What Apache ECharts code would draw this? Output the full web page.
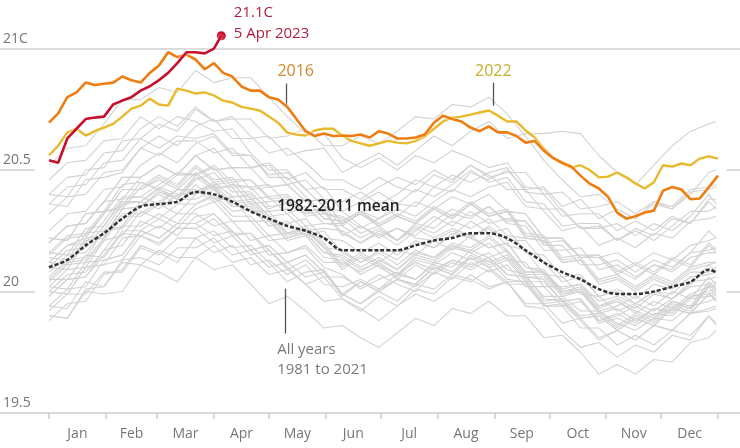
<!DOCTYPE html>
<html><head><meta charset="utf-8">
<script src="https://cdn.jsdelivr.net/npm/echarts@6/dist/echarts.min.js"></script>
<style>html,body{margin:0;padding:0;background:#fff}#c{width:740px;height:448px}</style>
</head><body><div id="c"></div>
<script>
const monthNames = ['Jan','Feb','Mar','Apr','May','Jun','Jul','Aug','Sep','Oct','Nov','Dec'];
const monthStarts = [0,31,59,90,120,151,181,212,243,273,304,334,365];
const yTicks = [19.5, 20, 20.5, 21];

const coarseDays = [0,10,20,30,40,50,60,70,80,90,100,110,120,130,140,150,160,170,180,190,200,210,220,230,240,250,260,270,280,290,300,310,320,330,340,350,360,364];
const fineDays = [0,5,10,15,20,25,30,35,40,45,50,55,60,65,70,75,80,85,90,95,100,105,110,115,120,125,130,135,140,145,150,155,160,165,170,175,180,185,190,195,200,205,210,215,220,225,230,235,240,245,250,255,260,265,270,275,280,285,290,295,300,305,310,315,320,325,330,335,340,345,350,355,360,365];
const days2023 = [0,5,10,15,20,25,30,35,40,45,50,55,60,65,70,75,80,85,90,94];

const mean8211 = [20.10,20.13,20.19,20.24,20.30,20.35,20.36,20.37,20.41,20.40,20.37,20.33,20.30,20.27,20.25,20.22,20.17,20.17,20.17,20.17,20.19,20.21,20.22,20.24,20.24,20.22,20.17,20.12,20.08,20.05,20.01,19.99,19.99,20.00,20.02,20.04,20.09,20.08];

const y2016 = [20.695,20.733,20.80,20.82,20.86,20.85,20.855,20.86,20.885,20.87,20.86,20.90,20.93,20.985,20.965,20.975,20.955,20.915,20.94,20.90,20.885,20.844,20.827,20.827,20.80,20.79,20.76,20.71,20.66,20.64,20.65,20.64,20.642,20.64,20.646,20.634,20.66,20.65,20.63,20.63,20.634,20.646,20.695,20.724,20.71,20.70,20.675,20.66,20.68,20.655,20.655,20.64,20.613,20.62,20.58,20.55,20.53,20.514,20.477,20.444,20.424,20.39,20.325,20.30,20.31,20.325,20.333,20.415,20.43,20.42,20.38,20.383,20.43,20.477];
const y2022 = [20.56,20.60,20.655,20.67,20.642,20.66,20.675,20.69,20.72,20.753,20.765,20.794,20.77,20.765,20.835,20.827,20.815,20.82,20.807,20.786,20.778,20.76,20.753,20.745,20.72,20.695,20.654,20.646,20.642,20.663,20.67,20.67,20.642,20.62,20.61,20.60,20.61,20.62,20.613,20.61,20.62,20.638,20.67,20.70,20.716,20.72,20.728,20.737,20.745,20.724,20.70,20.70,20.663,20.634,20.588,20.55,20.527,20.51,20.52,20.50,20.47,20.473,20.49,20.47,20.445,20.424,20.45,20.52,20.514,20.527,20.52,20.547,20.556,20.547];
const y2023 = [20.54,20.53,20.63,20.67,20.71,20.716,20.72,20.77,20.786,20.80,20.827,20.845,20.87,20.90,20.94,20.985,20.985,20.98,21.0,21.053];

const y1981 = [20.05,20.05,20.15,20.14,20.24,20.23,20.27,20.23,20.31,20.32,20.24,20.24,20.15,20.16,20.18,20.10,20.07,20.01,20.05,20.08,20.05,20.11,20.16,20.13,20.16,20.09,20.07,19.97,19.96,19.97,19.87,19.89,19.86,19.91,19.90,19.97,19.98,19.99];
const y1982 = [19.92,19.99,19.99,20.08,20.08,20.18,20.15,20.22,20.22,20.16,20.19,20.11,20.13,20.07,20.11,20.03,20.02,20.05,20.01,20.07,20.05,20.12,20.10,20.17,20.14,20.17,20.08,20.08,20.01,20.03,19.96,19.98,19.95,20.00,19.99,20.06,20.07,20.08];
const y1983 = [20.12,20.19,20.22,20.32,20.42,20.42,20.46,20.42,20.49,20.43,20.43,20.33,20.33,20.24,20.24,20.16,20.14,20.09,20.12,20.07,20.12,20.09,20.13,20.11,20.14,20.07,20.06,19.98,19.98,19.92,19.92,19.87,19.84,19.89,19.88,19.94,19.96,19.97];
const y1984 = [19.94,19.93,20.04,20.02,20.12,20.11,20.17,20.14,20.14,20.19,20.12,20.14,20.07,20.09,20.03,19.96,19.97,19.93,19.88,19.94,19.99,19.96,20.01,20.07,20.02,20.04,19.94,19.93,19.84,19.77,19.79,19.73,19.78,19.75,19.82,19.80,19.90,19.86];
const y1985 = [19.90,19.89,20.00,19.99,20.00,20.11,20.08,20.04,20.14,20.09,20.11,20.03,19.95,19.98,19.92,19.85,19.86,19.81,19.77,19.83,19.89,19.86,19.93,19.91,19.96,19.90,19.90,19.81,19.82,19.75,19.66,19.70,19.66,19.72,19.71,19.79,19.81,19.84];
const y1986 = [19.88,19.95,19.96,20.07,20.09,20.19,20.16,20.12,20.22,20.25,20.18,20.19,20.12,20.04,20.08,20.09,19.99,19.95,20.01,20.05,20.02,20.08,20.13,20.10,20.14,20.07,20.06,20.05,19.96,19.97,19.88,19.90,19.94,19.90,19.96,19.93,20.02,20.03];
const y1987 = [20.10,20.09,20.21,20.22,20.34,20.35,20.41,20.38,20.47,20.42,20.44,20.43,20.35,20.36,20.38,20.30,20.29,20.33,20.27,20.31,20.28,20.34,20.30,20.36,20.31,20.33,20.22,20.21,20.12,20.13,20.03,20.05,20.00,20.05,20.02,20.08,20.08,20.10];
const y1988 = [20.16,20.15,20.26,20.27,20.38,20.39,20.36,20.42,20.42,20.37,20.39,20.29,20.29,20.21,20.23,20.14,20.13,20.07,20.11,20.05,20.11,20.07,20.12,20.09,20.13,20.05,20.04,19.94,19.94,19.85,19.85,19.78,19.82,19.78,19.84,19.82,19.90,19.87];
const y1989 = [19.90,19.89,20.01,20.02,20.13,20.14,20.11,20.18,20.18,20.22,20.15,20.17,20.10,20.12,20.06,20.08,19.99,19.95,20.00,19.96,20.03,20.01,20.07,20.05,20.01,20.04,19.95,19.95,19.87,19.89,19.81,19.84,19.80,19.86,19.84,19.91,19.92,19.93];
const y1990 = [20.02,20.09,20.10,20.21,20.23,20.33,20.30,20.36,20.36,20.40,20.33,20.34,20.27,20.29,20.23,20.25,20.16,20.12,20.17,20.13,20.20,20.18,20.24,20.22,20.27,20.21,20.21,20.12,20.04,20.06,19.98,20.01,19.97,20.03,20.01,20.06,20.07,20.08];
const y1991 = [20.12,20.11,20.22,20.23,20.34,20.35,20.41,20.38,20.38,20.42,20.35,20.36,20.29,20.22,20.25,20.18,20.09,20.14,20.10,20.06,20.13,20.11,20.08,20.15,20.11,20.14,20.05,19.96,19.97,19.90,19.91,19.85,19.90,19.87,19.94,19.92,20.02,19.98];
const y1992 = [20.00,19.99,20.10,20.11,20.13,20.23,20.20,20.26,20.26,20.20,20.23,20.15,20.17,20.10,20.03,20.06,19.97,19.92,19.98,19.94,20.01,19.99,20.06,20.04,20.09,20.03,20.03,19.94,19.95,19.88,19.80,19.84,19.80,19.86,19.84,19.91,19.93,19.94];
const y1993 = [19.94,20.01,20.02,20.13,20.15,20.25,20.22,20.28,20.28,20.32,20.25,20.17,20.19,20.12,20.15,20.08,19.99,20.04,20.00,20.05,20.03,20.10,20.07,20.14,20.10,20.13,20.04,20.04,19.96,19.89,19.90,19.84,19.89,19.86,19.93,19.91,19.99,19.96];
const y1994 = [19.98,20.05,20.06,20.17,20.19,20.29,20.26,20.32,20.32,20.27,20.29,20.21,20.23,20.16,20.19,20.12,20.12,20.08,20.13,20.09,20.16,20.14,20.20,20.18,20.23,20.17,20.08,20.08,20.00,20.02,19.94,19.97,19.93,19.99,19.97,20.04,20.05,20.06];
const y1995 = [20.14,20.13,20.24,20.25,20.36,20.37,20.43,20.40,20.40,20.44,20.37,20.38,20.31,20.24,20.27,20.20,20.11,20.16,20.12,20.17,20.15,20.13,20.19,20.17,20.22,20.16,20.07,20.07,19.99,20.01,19.93,19.96,19.92,19.89,19.96,19.94,20.04,20.01];
const y1996 = [20.00,19.99,20.10,20.11,20.22,20.23,20.19,20.26,20.26,20.30,20.23,20.24,20.17,20.09,20.13,20.06,20.06,20.02,20.07,20.03,20.00,20.08,20.05,20.12,20.08,20.11,20.02,20.02,19.94,19.96,19.88,19.91,19.87,19.93,19.91,19.98,19.99,20.00];
const y1997 = [20.06,20.13,20.14,20.25,20.27,20.37,20.34,20.40,20.41,20.45,20.39,20.40,20.34,20.37,20.32,20.35,20.27,20.33,20.30,20.36,20.35,20.43,20.41,20.49,20.46,20.50,20.42,20.43,20.35,20.38,20.30,20.34,20.30,20.37,20.35,20.42,20.43,20.44];
const y1998 = [20.46,20.53,20.54,20.62,20.63,20.72,20.67,20.72,20.70,20.66,20.67,20.57,20.50,20.50,20.42,20.35,20.33,20.27,20.23,20.26,20.22,20.21,20.25,20.22,20.18,20.20,20.10,20.08,19.99,20.00,19.91,19.93,19.88,19.93,19.92,19.98,20.00,20.01];
const y1999 = [20.02,20.01,20.12,20.13,20.15,20.25,20.22,20.28,20.28,20.23,20.25,20.17,20.19,20.12,20.15,20.08,19.98,20.04,20.00,20.05,20.03,20.10,20.07,20.14,20.10,20.04,20.04,19.95,19.96,19.89,19.90,19.84,19.89,19.86,19.93,19.91,19.99,19.97];
const y2000 = [19.98,20.05,20.06,20.15,20.25,20.25,20.30,20.26,20.34,20.37,20.29,20.29,20.21,20.22,20.24,20.16,20.15,20.10,20.14,20.09,20.15,20.21,20.17,20.23,20.18,20.20,20.10,20.09,20.00,20.01,19.92,19.94,19.98,19.94,20.00,19.97,20.06,20.03];
const y2001 = [20.10,20.17,20.18,20.27,20.37,20.37,20.42,20.38,20.46,20.49,20.41,20.41,20.33,20.34,20.27,20.28,20.27,20.22,20.26,20.21,20.27,20.24,20.29,20.26,20.30,20.23,20.22,20.21,20.12,20.13,20.04,20.06,20.01,20.06,20.03,20.09,20.11,20.12];
const y2002 = [20.15,20.22,20.23,20.32,20.42,20.42,20.47,20.43,20.51,20.45,20.46,20.46,20.38,20.39,20.32,20.33,20.23,20.27,20.22,20.26,20.23,20.29,20.34,20.31,20.35,20.28,20.27,20.17,20.17,20.18,20.09,20.11,20.06,20.11,20.08,20.14,20.16,20.16];
const y2003 = [20.22,20.21,20.32,20.33,20.44,20.45,20.42,20.48,20.48,20.52,20.45,20.46,20.39,20.32,20.35,20.28,20.28,20.32,20.27,20.31,20.28,20.34,20.30,20.36,20.31,20.33,20.32,20.22,20.22,20.14,20.14,20.07,20.11,20.07,20.13,20.10,20.19,20.16];
const y2004 = [20.16,20.23,20.24,20.33,20.34,20.43,20.48,20.44,20.52,20.46,20.47,20.38,20.39,20.40,20.33,20.34,20.24,20.20,20.25,20.21,20.28,20.26,20.32,20.30,20.35,20.29,20.29,20.20,20.21,20.14,20.15,20.09,20.05,20.11,20.09,20.16,20.17,20.18];
const y2005 = [20.20,20.27,20.28,20.37,20.47,20.47,20.52,20.48,20.56,20.50,20.51,20.51,20.43,20.44,20.37,20.38,20.28,20.32,20.27,20.31,20.28,20.34,20.30,20.36,20.31,20.33,20.23,20.22,20.13,20.14,20.05,20.07,20.02,20.07,20.04,20.10,20.12,20.12];
const y2006 = [20.08,20.15,20.16,20.25,20.26,20.35,20.40,20.36,20.44,20.38,20.39,20.39,20.31,20.32,20.25,20.26,20.25,20.20,20.24,20.19,20.25,20.31,20.27,20.33,20.28,20.30,20.29,20.19,20.19,20.11,20.11,20.13,20.08,20.13,20.10,20.16,20.25,20.22];
const y2007 = [20.22,20.21,20.32,20.33,20.35,20.45,20.42,20.39,20.48,20.43,20.36,20.37,20.30,20.23,20.26,20.19,20.10,20.15,20.11,20.07,20.14,20.12,20.18,20.16,20.12,20.15,20.06,20.06,19.98,20.00,19.92,19.86,19.91,19.88,19.95,19.93,20.03,20.00];
const y2008 = [20.00,20.07,20.08,20.17,20.27,20.27,20.32,20.28,20.36,20.39,20.31,20.31,20.23,20.24,20.26,20.18,20.17,20.12,20.16,20.11,20.17,20.14,20.19,20.16,20.20,20.13,20.12,20.02,20.02,20.03,19.94,19.96,19.91,19.96,19.93,19.99,20.02,20.02];
const y2009 = [20.05,20.12,20.13,20.22,20.32,20.32,20.37,20.42,20.41,20.44,20.45,20.36,20.37,20.38,20.31,20.32,20.31,20.26,20.30,20.34,20.31,20.37,20.42,20.39,20.43,20.45,20.35,20.34,20.34,20.26,20.26,20.28,20.23,20.28,20.25,20.31,20.40,20.36];
const y2010 = [20.36,20.43,20.44,20.53,20.54,20.63,20.59,20.64,20.63,20.65,20.57,20.56,20.47,20.47,20.39,20.32,20.30,20.24,20.27,20.21,20.26,20.22,20.26,20.23,20.26,20.19,20.17,20.07,20.06,19.99,19.98,19.92,19.95,19.92,19.97,20.02,20.03,20.04];
const y2011 = [20.04,20.11,20.12,20.21,20.31,20.31,20.36,20.32,20.40,20.43,20.35,20.35,20.27,20.28,20.30,20.22,20.21,20.16,20.20,20.15,20.21,20.18,20.23,20.29,20.24,20.26,20.16,20.15,20.06,20.07,19.98,20.00,19.95,20.00,19.97,20.03,20.11,20.08];
const y2012 = [20.12,20.19,20.20,20.29,20.39,20.39,20.44,20.49,20.48,20.51,20.43,20.43,20.44,20.36,20.38,20.30,20.29,20.33,20.28,20.32,20.29,20.35,20.31,20.37,20.32,20.34,20.24,20.23,20.14,20.15,20.15,20.08,20.12,20.08,20.14,20.11,20.20,20.17];
const y2013 = [20.20,20.27,20.28,20.37,20.38,20.47,20.52,20.48,20.56,20.50,20.51,20.42,20.43,20.44,20.37,20.38,20.28,20.32,20.36,20.31,20.37,20.34,20.39,20.36,20.40,20.33,20.32,20.22,20.22,20.14,20.14,20.16,20.11,20.16,20.13,20.19,20.21,20.22];
const y2014 = [20.20,20.27,20.28,20.37,20.47,20.47,20.52,20.48,20.56,20.59,20.51,20.51,20.52,20.44,20.46,20.38,20.37,20.41,20.36,20.40,20.46,20.43,20.48,20.45,20.49,20.51,20.41,20.40,20.31,20.32,20.32,20.25,20.29,20.25,20.31,20.28,20.37,20.34];
const y2015 = [20.32,20.39,20.40,20.49,20.50,20.59,20.64,20.60,20.68,20.71,20.63,20.63,20.64,20.56,20.58,20.59,20.49,20.53,20.57,20.52,20.58,20.64,20.60,20.66,20.70,20.63,20.65,20.65,20.66,20.65,20.56,20.49,20.44,20.52,20.60,20.66,20.69,20.70];
const y2017 = [20.40,20.39,20.50,20.51,20.62,20.63,20.69,20.66,20.75,20.70,20.72,20.64,20.57,20.59,20.53,20.46,20.46,20.42,20.47,20.43,20.41,20.48,20.45,20.52,20.48,20.42,20.42,20.33,20.25,20.27,20.19,20.22,20.18,20.24,20.22,20.29,20.30,20.31];
const y2018 = [20.25,20.32,20.33,20.42,20.43,20.52,20.57,20.53,20.61,20.64,20.56,20.56,20.48,20.49,20.42,20.43,20.33,20.37,20.41,20.36,20.42,20.39,20.44,20.50,20.45,20.47,20.37,20.36,20.27,20.28,20.28,20.21,20.25,20.21,20.27,20.33,20.33,20.35];
const y2019 = [20.40,20.47,20.48,20.57,20.58,20.67,20.72,20.68,20.76,20.70,20.71,20.71,20.63,20.64,20.67,20.60,20.60,20.64,20.61,20.66,20.72,20.71,20.77,20.76,20.80,20.73,20.64,20.54,20.46,20.39,20.40,20.34,20.30,20.36,20.34,20.41,20.42,20.43];
const y2020 = [20.52,20.59,20.60,20.69,20.79,20.79,20.84,20.82,20.91,20.86,20.88,20.88,20.80,20.72,20.65,20.65,20.55,20.51,20.55,20.50,20.56,20.53,20.58,20.55,20.51,20.53,20.43,20.42,20.33,20.26,20.27,20.21,20.26,20.23,20.30,20.28,20.38,20.38];
const y2021 = [20.36,20.35,20.46,20.47,20.49,20.59,20.56,20.62,20.62,20.57,20.59,20.51,20.53,20.46,20.49,20.42,20.42,20.38,20.43,20.47,20.44,20.50,20.46,20.52,20.47,20.49,20.49,20.40,20.41,20.34,20.35,20.37,20.32,20.37,20.34,20.40,20.49,20.50];

const greyYears = [y1981,y1982,y1983,y1984,y1985,y1986,y1987,y1988,y1989,y1990,y1991,y1992,y1993,y1994,y1995,y1996,y1997,y1998,y1999,y2000,y2001,y2002,y2003,y2004,y2005,y2006,y2007,y2008,y2009,y2010,y2011,y2012,y2013,y2014,y2015,y2017,y2018,y2019,y2020,y2021];

const FONT = "'Open Sans', 'Noto Sans', sans-serif";
const monthMids = monthNames.map((m, i) => (monthStarts[i] + monthStarts[i + 1]) / 2);
function pairs(days, vals) { return vals.slice(0, days.length).map((v, i) => [days[i], v]); }
const lastIdx = y2023.length - 1;

const series = [];
// full-width reference lines and baseline (second grid)
series.push({
  type: 'line', xAxisIndex: 1, yAxisIndex: 1, data: [[0, 19.5]], symbol: 'none', silent: true,
  lineStyle: { opacity: 0 }, z: 0,
  markLine: {
    silent: true, symbol: ['none', 'none'], label: { show: false },
    lineStyle: { color: '#cfcfcf', width: 1.5, type: 'solid' },
    data: [
      [{ coord: [0, yTicks[3]] }, { coord: [1, yTicks[3]] }],
      [{ coord: [0, yTicks[2]] }, { coord: [0.047, yTicks[2]] }],
      [{ coord: [0.982, yTicks[2]] }, { coord: [1, yTicks[2]] }],
      [{ coord: [0, yTicks[1]] }, { coord: [0.047, yTicks[1]] }],
      [{ coord: [0.982, yTicks[1]] }, { coord: [1, yTicks[1]] }]
    ]
  }
});
greyYears.forEach((vals, k) => {
  const s = {
    type: 'line', data: pairs(coarseDays, vals), symbol: 'none', silent: true, z: 2,
    lineStyle: { color: '#d2d2d2', width: 1.1 }
  };
  if (k === 0) {
    s.markLine = {
      silent: true, symbol: ['none', 'none'], label: { show: false },
      lineStyle: { color: '#555', width: 1.3, type: 'solid' },
      data: [[{ coord: [129.1, 20.012] }, { coord: [129.1, 19.827] }]]
    };
    s.markPoint = {
      silent: true, symbol: 'circle', symbolSize: 1, itemStyle: { color: 'rgba(0,0,0,0)' },
      data: [{ coord: [124.2, 19.72], label: {
        show: true, position: 'right', distance: 0, formatter: 'All years\n1981 to 2021',
        color: '#7a7a7a', fontSize: 15, lineHeight: 20, fontFamily: FONT } }]
    };
  }
  series.push(s);
});
series.push({
  type: 'line', data: pairs(coarseDays, mean8211), symbol: 'none', silent: true, z: 3, smooth: 0.3,
  lineStyle: { color: '#333', width: 2.5, type: [4, 2] },
  markPoint: {
    silent: true, symbol: 'circle', symbolSize: 1, itemStyle: { color: 'rgba(0,0,0,0)' },
    data: [{ coord: [124.2, 20.35], label: {
      show: true, position: 'right', distance: 0, formatter: '1982-2011 mean',
      color: '#222', fontSize: 15.5, fontWeight: 600, fontFamily: FONT } }]
  }
});
series.push({
  type: 'line', data: pairs(fineDays, y2022), symbol: 'none', silent: true, z: 4,
  lineStyle: { color: '#e8b92c', width: 2.4, shadowColor: 'rgba(255,255,255,0.9)', shadowBlur: 3 },
  markLine: {
    silent: true, symbol: ['none', 'none'], label: { show: false },
    lineStyle: { color: '#555', width: 1.3, type: 'solid' },
    data: [[{ coord: [242.4, 20.86] }, { coord: [242.4, 20.765] }]]
  },
  markPoint: {
    silent: true, symbol: 'circle', symbolSize: 1, itemStyle: { color: 'rgba(0,0,0,0)' },
    data: [{ coord: [242.4, 20.905], label: {
      show: true, position: 'inside', formatter: '2022',
      color: '#c9ad2e', fontSize: 16, fontFamily: FONT } }]
  }
});
series.push({
  type: 'line', data: pairs(fineDays, y2016), symbol: 'none', silent: true, z: 5,
  lineStyle: { color: '#ee7d12', width: 2.6, shadowColor: 'rgba(255,255,255,0.9)', shadowBlur: 3 },
  markLine: {
    silent: true, symbol: ['none', 'none'], label: { show: false },
    lineStyle: { color: '#555', width: 1.3, type: 'solid' },
    data: [[{ coord: [129.7, 20.856] }, { coord: [129.7, 20.766] }]]
  },
  markPoint: {
    silent: true, symbol: 'circle', symbolSize: 1, itemStyle: { color: 'rgba(0,0,0,0)' },
    data: [{ coord: [134.6, 20.905], label: {
      show: true, position: 'inside', formatter: '2016',
      color: '#d08a26', fontSize: 16, fontFamily: FONT } }]
  }
});
series.push({
  type: 'line', data: pairs(days2023, y2023), symbol: 'none', silent: true, z: 6,
  lineStyle: { color: '#c8102e', width: 2.6, shadowColor: 'rgba(255,255,255,0.9)', shadowBlur: 3 },
  markPoint: {
    silent: true, symbol: 'circle', symbolSize: 9, itemStyle: { color: '#c8102e' },
    data: [{ coord: [days2023[lastIdx], y2023[lastIdx]], label: {
      show: true, position: 'right', distance: 8, offset: [0, -12],
      formatter: '21.1C\n5 Apr 2023', color: '#b31b3c', fontSize: 15, lineHeight: 21, fontFamily: FONT } }]
  }
});

const chart = echarts.init(document.getElementById('c'));
chart.setOption({
  animation: false,
  backgroundColor: '#fff',
  grid: [
    { left: 48, right: 22, top: 0, bottom: 35 },
    { left: 0, right: 0, top: 0, bottom: 35 }
  ],
  xAxis: [
    { gridIndex: 0, type: 'value', min: 0, max: 365,
      axisLine: { show: false }, splitLine: { show: false },
      axisTick: { show: true, customValues: monthStarts, length: 6, lineStyle: { color: '#cccccc', width: 1.5 } },
      axisLabel: { customValues: monthMids, margin: 14, color: '#767676', fontSize: 14, fontFamily: FONT,
        formatter: v => monthNames[monthMids.indexOf(v)] } },
    { gridIndex: 1, type: 'value', min: 0, max: 1, position: 'bottom',
      axisLine: { show: true, lineStyle: { color: '#cccccc', width: 1.5 } },
      axisTick: { show: false }, axisLabel: { show: false }, splitLine: { show: false } }
  ],
  yAxis: [
    { gridIndex: 0, type: 'value', min: 19.5, max: 21.2,
      axisLine: { show: false }, axisTick: { show: false }, splitLine: { show: false },
      axisLabel: { customValues: yTicks, showMinLabel: true, align: 'left', margin: 46, verticalAlign: 'bottom',
        padding: [0, 0, 3, 0], color: '#767676', fontSize: 14, fontFamily: FONT,
        formatter: v => v === 21 ? '21C' : String(v) } },
    { gridIndex: 1, type: 'value', min: 19.5, max: 21.2, show: false }
  ],
  series: series
});
</script>
</body></html>
